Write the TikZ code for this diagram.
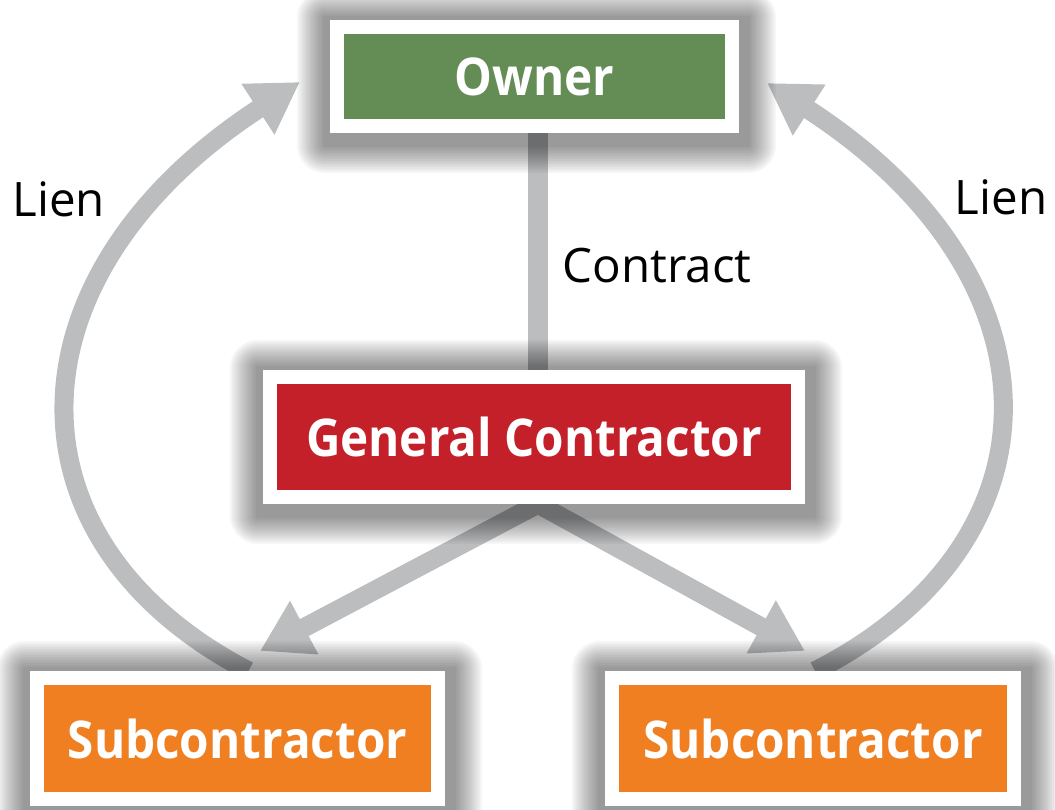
\documentclass[tikz,border=0pt]{standalone}
\usepackage{fontspec}
\setmainfont{Open Sans}
\usetikzlibrary{arrows.meta,calc}
\definecolor{ownergreen}{RGB}{100,140,85}
\definecolor{gcred}{RGB}{196,32,41}
\definecolor{suborange}{RGB}{240,127,34}
\definecolor{arrowgray}{RGB}{188,189,191}
\pgfdeclarelayer{arrowlayer}
\pgfdeclarelayer{shadowlayer}
\pgfsetlayers{arrowlayer,shadowlayer,main}
\tikzset{
  box/.style={draw=white, line width=0.14cm, inner sep=0pt, text=white,
    font=\fontsize{14.8}{17}\selectfont\bfseries},
  conn/.style={draw=arrowgray, line width=0.19cm},
  head/.style={-{Triangle[length=0.5cm,width=0.57cm]}},
  lbl/.style={text=black, inner sep=0pt, font=\fontsize{13.5}{16}\selectfont},
}
\newcommand{\boxshadow}[1]{%
  \begin{pgfonlayer}{shadowlayer}
    \foreach \d in {2,4,...,28}{
      \fill[black, opacity=0.035, rounded corners=\d*0.01cm]
        ($(#1.south west)+(-7-\d+2,-7-\d-5)$) rectangle ($(#1.north east)+(7+\d+2,7+\d-5)$);
    }
  \end{pgfonlayer}}
\newcommand{\narrow}[1]{\scalebox{0.915}[1]{#1}}
\begin{document}
\begin{tikzpicture}[x=0.01cm,y=0.01cm]
\useasboundingbox (0,0) rectangle (1055,809);
% boxes
\node[box, fill=ownergreen, minimum width=3.95cm, minimum height=0.99cm] (owner) at (534.5,732.5) {\narrow{Owner}};
\node[box, fill=gcred, minimum width=5.28cm, minimum height=1.20cm] (gc) at (534,372) {\narrow{General Contractor}};
\node[box, fill=suborange, minimum width=4.01cm, minimum height=1.21cm] (subl) at (237.5,70.5) {\narrow{Subcontractor}};
\node[box, fill=suborange, minimum width=4.02cm, minimum height=1.21cm] (subr) at (813,70.5) {\narrow{Subcontractor}};
\boxshadow{owner}
\boxshadow{gc}
\boxshadow{subl}
\boxshadow{subr}
% labels
\node[lbl, anchor=base west] (contract) at (562,526) {Contract};
\node[lbl, anchor=base west] (lienl) at (12,592) {Lien};
\node[lbl, anchor=base east] (lienr) at (1048,594) {Lien};
% connectors
\coordinate (cx) at (538,0);
\begin{pgfonlayer}{arrowlayer}
  \draw[conn, line width=0.20cm] (owner.south -| cx) -- (gc.north -| cx);
  \draw[conn, head] ($(gc.south)+(4,0)$) -- ($(subl.north)+(22.5,20)$);
  \draw[conn, head] ($(gc.south)+(4,0)$) -- ($(subr.north)+(-8,20)$);
  \draw[conn, head] ($(subl.north)+(11,0)$) .. controls (-2,268) and (3,534) .. ($(owner.west)+(-30,-5.5)$);
  \draw[conn, head] ($(subr.north)+(2,0)$) .. controls (1070,268) and (1065,534) .. ($(owner.east)+(28,-6.5)$);
\end{pgfonlayer}
\end{tikzpicture}
\end{document}
